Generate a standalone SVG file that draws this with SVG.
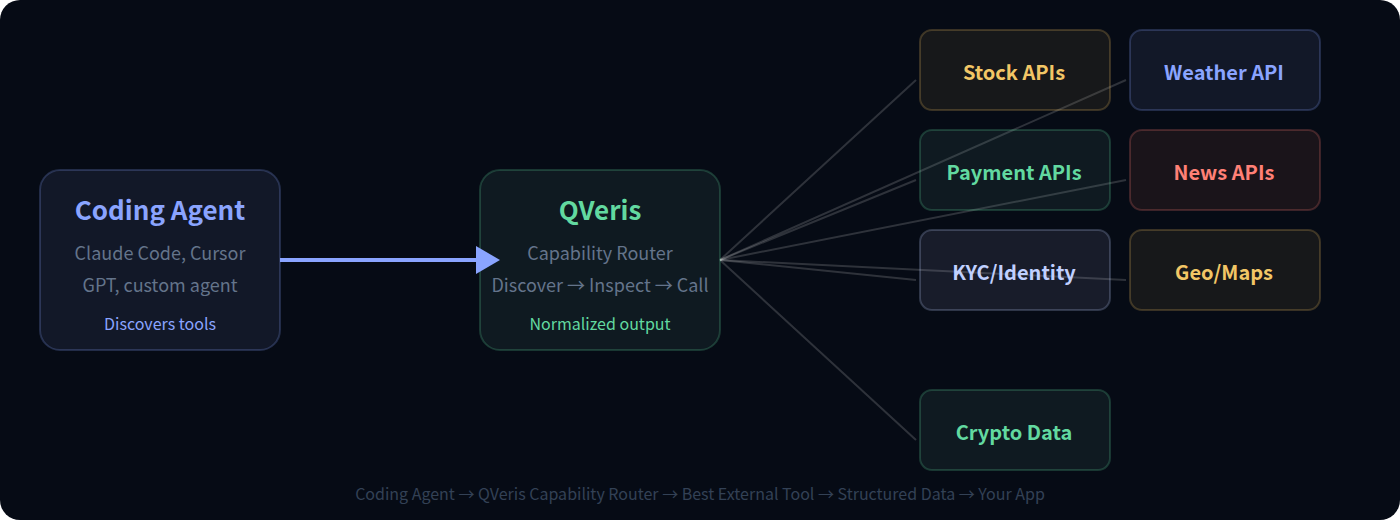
<svg xmlns="http://www.w3.org/2000/svg" width="1400" height="520" viewBox="0 0 1400 520">
<style>
text{font-family:"Noto Sans CJK JP","Noto Sans",sans-serif;text-anchor:middle}
.t{font-size:26px;font-weight:700}
.s{font-size:18px;fill:#64748b}
.n{font-size:16px}
.a{font-size:20px;font-weight:700}
.c{stroke:#fff;stroke-opacity:.16;stroke-width:2;fill:none}
.blue{fill:#8aa4ff}.green{fill:#62d9a0}.amber{fill:#f2c666}.red{fill:#ff8076}.pale{fill:#c0d0ff}
.bb,.bg,.ba,.br,.bp{fill-opacity:.1;stroke-width:2;stroke-opacity:.22}
.bb{fill:rgb(130,150,220);stroke:#8aa4ff}
.bg{fill:rgb(100,170,145);stroke:#5fd49a}
.ba{fill:rgb(175,150,80);stroke:#f0c060}
.br{fill:rgb(205,110,80);stroke:#ff7b72}
.bp{fill:rgb(190,190,240);stroke:#c0d0ff}
</style>
<defs><marker id="ah" markerUnits="userSpaceOnUse" markerWidth="24" markerHeight="28" refX="0" refY="14" orient="auto"><path d="M0 0L24 14L0 28Z" fill="#8aa4ff"/></marker></defs>
<rect width="1400" height="520" fill="#fff"/>
<rect id="background" width="1400" height="520" rx="20" fill="#060b15"/>
<g id="connectors">
<path class="c" d="M720 260L916 80"/>
<path class="c" d="M720 260L1126 80"/>
<path class="c" d="M720 260L916 180"/>
<path class="c" d="M720 260L1126 180"/>
<path class="c" d="M720 260L916 280"/>
<path class="c" d="M720 260L1126 280"/>
<path class="c" d="M720 260L916 440"/>
</g>
<g id="coding-agent"><rect class="bb" x="40" y="170" width="240" height="180" rx="20"/>
<text class="t blue" x="160" y="220">Coding Agent</text>
<text class="s" x="160" y="260">Claude Code, Cursor</text>
<text class="s" x="160" y="292">GPT, custom agent</text>
<text class="n blue" x="160" y="330">Discovers tools</text></g>
<g id="qveris"><rect class="bg" x="480" y="170" width="240" height="180" rx="20"/>
<text class="t green" x="600" y="220">QVeris</text>
<text class="s" x="600" y="260">Capability Router</text>
<text class="s" x="600" y="292">Discover → Inspect → Call</text>
<text class="n green" x="600" y="330">Normalized output</text></g>
<g id="stock"><rect class="ba" x="920" y="30" width="190" height="80" rx="12"/><text class="a amber" x="1014" y="80">Stock APIs</text></g>
<g id="weather"><rect class="bb" x="1130" y="30" width="190" height="80" rx="12"/><text class="a blue" x="1224" y="80">Weather API</text></g>
<g id="payment"><rect class="bg" x="920" y="130" width="190" height="80" rx="12"/><text class="a green" x="1014" y="180">Payment APIs</text></g>
<g id="news"><rect class="br" x="1130" y="130" width="190" height="80" rx="12"/><text class="a red" x="1224" y="180">News APIs</text></g>
<g id="kyc"><rect class="bp" x="920" y="230" width="190" height="80" rx="12"/><text class="a pale" x="1014" y="280">KYC/Identity</text></g>
<g id="geo"><rect class="ba" x="1130" y="230" width="190" height="80" rx="12"/><text class="a amber" x="1224" y="280">Geo/Maps</text></g>
<g id="crypto"><rect class="bg" x="920" y="390" width="190" height="80" rx="12"/><text class="a green" x="1014" y="440">Crypto Data</text></g>
<g id="arrow"><path d="M280 260H476" stroke="#8aa4ff" stroke-width="4" fill="none" marker-end="url(#ah)"/></g>
<text id="footer" x="700" y="500" font-size="16" fill="#334155">Coding Agent → QVeris Capability Router → Best External Tool → Structured Data → Your App</text>
</svg>
